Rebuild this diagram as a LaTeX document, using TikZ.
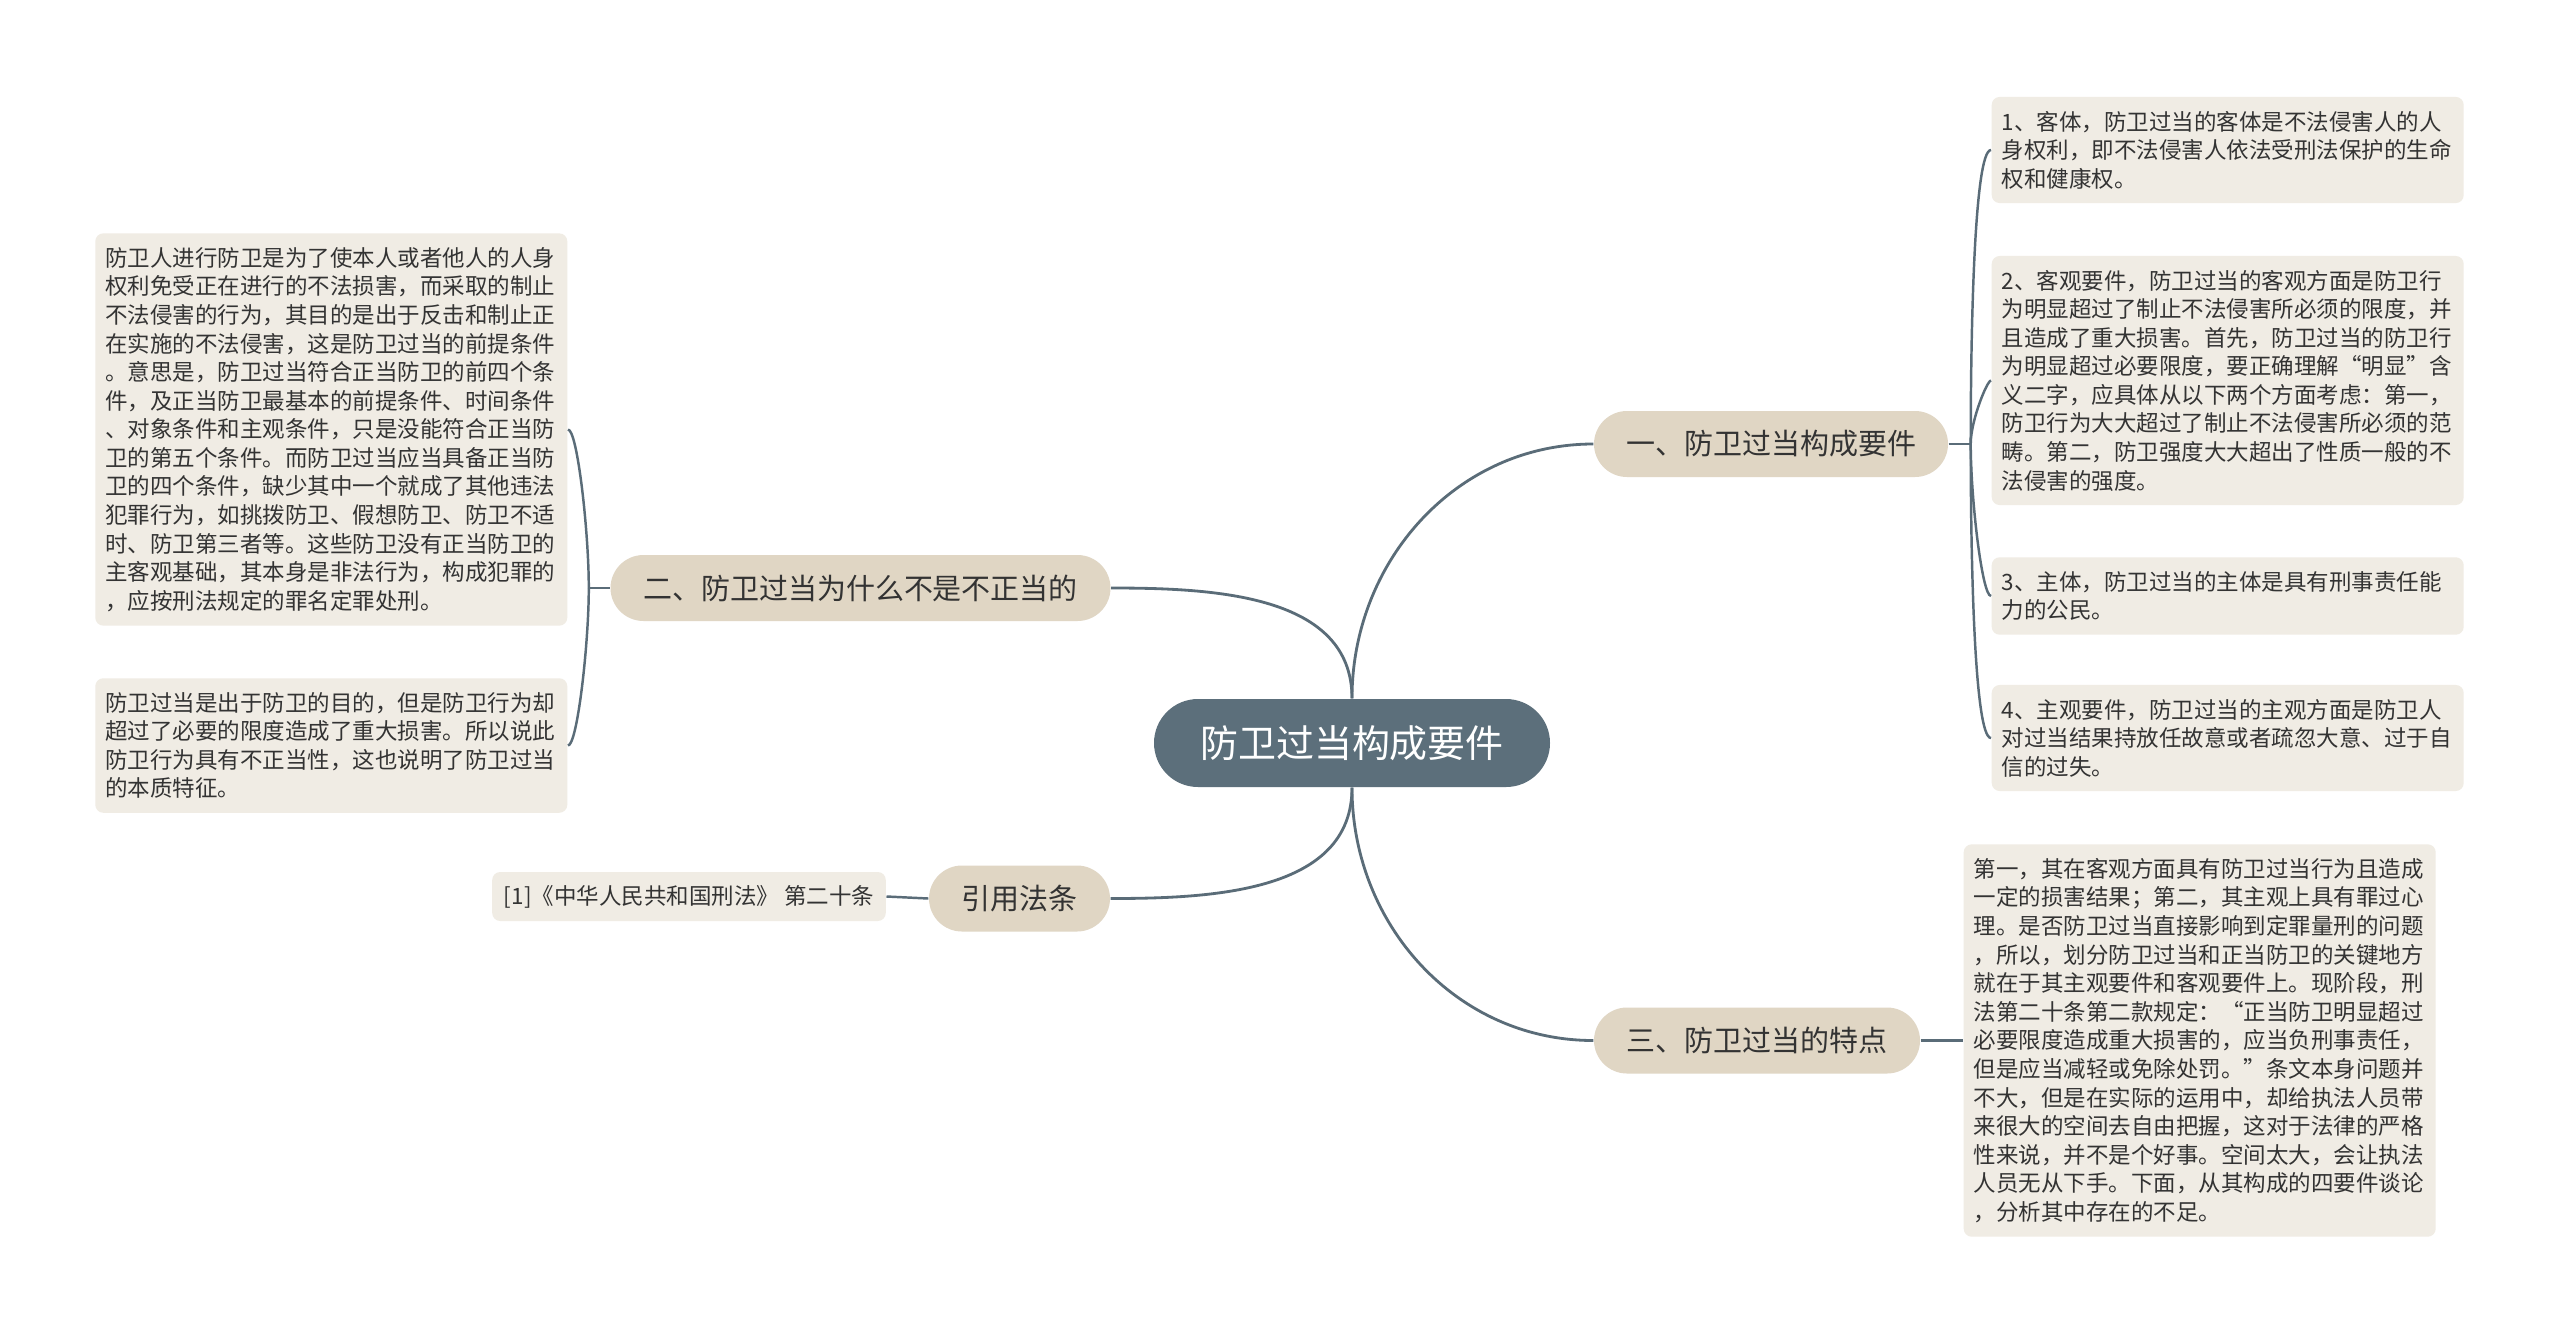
\documentclass[tikz,border=0pt]{standalone}
\usepackage{fontspec}
\newfontfamily\cjk{Noto Sans CJK SC}
\usetikzlibrary{calc}
\definecolor{rootfill}{RGB}{92,111,123}
\definecolor{branchfill}{RGB}{224,214,196}
\definecolor{leaffill}{RGB}{240,236,228}
\definecolor{linkcol}{RGB}{90,108,120}
\definecolor{txt}{RGB}{51,51,51}
\begin{document}
\begin{tikzpicture}[
  rootbox/.style={fill=rootfill,text=white,rounded corners=0.44cm,minimum width=3.96cm,minimum height=0.88cm,font=\cjk\fontsize{10.8pt}{13pt}\selectfont},
  branch/.style={fill=branchfill,text=txt,rounded corners=0.33cm,minimum height=0.66cm,font=\cjk\fontsize{8.25pt}{10pt}\selectfont},
  leaf/.style={fill=leaffill,text=txt,rounded corners=0.08cm,align=left,text width=4.52cm,inner xsep=0.1cm,inner ysep=0.14cm,font=\cjk\fontsize{6.4pt}{8.13pt}\selectfont},
  citebox/.style={fill=leaffill,text=txt,rounded corners=0.08cm,minimum width=3.92cm,minimum height=0.49cm,font=\cjk\fontsize{6.4pt}{8.13pt}\selectfont},
  link/.style={draw=linkcol,line width=0.8pt},
  sublink/.style={draw=linkcol,line width=0.7pt}
]
\useasboundingbox[fill=white] (0,0) rectangle (25.6,-13.36);

\node[rootbox] (root) at (13.52,-7.43) {防卫过当构成要件};
\node[branch,minimum width=3.54cm] (b1) at (17.71,-4.44) {一、防卫过当构成要件};
\node[branch,minimum width=5cm] (b2) at (8.605,-5.88) {二、防卫过当为什么不是不正当的};
\node[branch,minimum width=3.26cm] (b3) at (17.57,-10.405) {三、防卫过当的特点};
\node[branch,minimum width=1.81cm] (b4) at (10.195,-8.985) {引用法条};

\node[leaf,anchor=west] (r1) at (19.91,-1.50) {1、客体，防卫过当的客体是不法侵害人的人\\身权利，即不法侵害人依法受刑法保护的生命\\权和健康权。};
\node[leaf,anchor=west] (r2) at (19.91,-3.805) {2、客观要件，防卫过当的客观方面是防卫行\\为明显超过了制止不法侵害所必须的限度，并\\且造成了重大损害。首先，防卫过当的防卫行\\为明显超过必要限度，要正确理解“明显”含\\义二字，应具体从以下两个方面考虑：第一，\\防卫行为大大超过了制止不法侵害所必须的范\\畴。第二，防卫强度大大超出了性质一般的不\\法侵害的强度。};
\node[leaf,anchor=west] (r3) at (19.91,-5.96) {3、主体，防卫过当的主体是具有刑事责任能\\力的公民。};
\node[leaf,anchor=west] (r4) at (19.91,-7.38) {4、主观要件，防卫过当的主观方面是防卫人\\对过当结果持放任故意或者疏忽大意、过于自\\信的过失。};

\node[leaf,anchor=east] (lA) at (5.68,-4.295) {防卫人进行防卫是为了使本人或者他人的人身\\权利免受正在进行的不法损害，而采取的制止\\不法侵害的行为，其目的是出于反击和制止正\\在实施的不法侵害，这是防卫过当的前提条件\\。意思是，防卫过当符合正当防卫的前四个条\\件，及正当防卫最基本的前提条件、时间条件\\、对象条件和主观条件，只是没能符合正当防\\卫的第五个条件。而防卫过当应当具备正当防\\卫的四个条件，缺少其中一个就成了其他违法\\犯罪行为，如挑拨防卫、假想防卫、防卫不适\\时、防卫第三者等。这些防卫没有正当防卫的\\主客观基础，其本身是非法行为，构成犯罪的\\，应按刑法规定的罪名定罪处刑。};
\node[leaf,anchor=east] (lB) at (5.68,-7.455) {防卫过当是出于防卫的目的，但是防卫行为却\\超过了必要的限度造成了重大损害。所以说此\\防卫行为具有不正当性，这也说明了防卫过当\\的本质特征。};

\node[leaf,anchor=west] (c3) at (19.63,-10.405) {第一，其在客观方面具有防卫过当行为且造成\\一定的损害结果；第二，其主观上具有罪过心\\理。是否防卫过当直接影响到定罪量刑的问题\\，所以，划分防卫过当和正当防卫的关键地方\\就在于其主观要件和客观要件上。现阶段，刑\\法第二十条第二款规定：“正当防卫明显超过\\必要限度造成重大损害的，应当负刑事责任，\\但是应当减轻或免除处罚。”条文本身问题并\\不大，但是在实际的运用中，却给执法人员带\\来很大的空间去自由把握，这对于法律的严格\\性来说，并不是个好事。空间太大，会让执法\\人员无从下手。下面，从其构成的四要件谈论\\，分析其中存在的不足。};
\node[citebox] (cite) at (6.89,-8.965) {[1]《中华人民共和国刑法》 第二十条};

\coordinate (j1) at ($(b1.east)+(0.22,0)$);
\coordinate (j2) at ($(b2.west)+(-0.21,0)$);

\draw[link] (root.north) to[out=90,in=180] (b1.west);
\draw[link] (root.north) to[out=90,in=0] (b2.east);
\draw[link] (root.south) to[out=-90,in=0] (b4.east);
\draw[link] (root.south) to[out=-90,in=180] (b3.west);

\draw[sublink] (b1.east) -- (j1);
\foreach \n/\a in {r1/90,r2/90,r3/-90,r4/-90}
  \draw[sublink] (j1) to[out=\a,in=180,out looseness=0.9,in looseness=0.15] (\n.west);
\draw[sublink] (b2.west) -- (j2);
\draw[sublink] (j2) to[out=90,in=0,out looseness=0.9,in looseness=0.15] (lA.east);
\draw[sublink] (j2) to[out=-90,in=0,out looseness=0.9,in looseness=0.15] (lB.east);
\draw[sublink] (b3.east) -- (c3.west);
\draw[sublink] (b4.west) -- (cite.east);
\end{tikzpicture}
\end{document}
